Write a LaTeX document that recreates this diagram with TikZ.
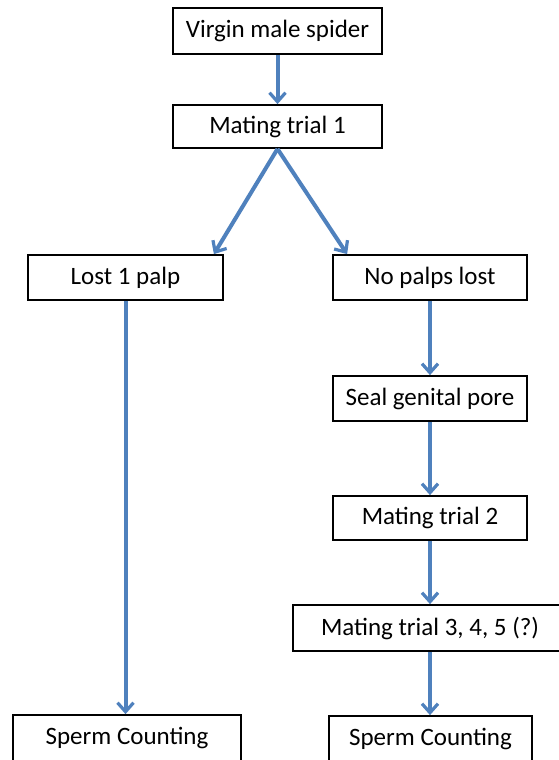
\documentclass[tikz,border=0pt]{standalone}
\usepackage{fontspec}
\setmainfont{Carlito}
\usetikzlibrary{arrows.meta,calc}
\definecolor{arrowblue}{RGB}{79,129,189}
\begin{document}
\begin{tikzpicture}[x=1pt,y=-1pt,
  box/.style={draw=black,line width=1.8pt,fill=white,rectangle,inner sep=0pt,
    minimum height=45pt,font=\fontsize{25}{29}\selectfont},
  flow/.style={draw=arrowblue,line width=4pt,
    -{Straight Barb[length=9pt,width=16pt,line width=3.2pt]}}]
\clip (0,0) rectangle (559,760);
\fill[white] (0,0) rectangle (559,760);
\node[box,minimum width=209pt,minimum height=46pt] (v) at (277.5,31) {Virgin male spider};
\node[box,minimum width=209pt,minimum height=43pt] (m1) at (277.5,126.5) {Mating trial 1};
\node[box,minimum width=195pt] (lost) at (125.5,277.5) {Lost 1 palp};
\node[box,minimum width=194pt] (nop) at (430,277.5) {No palps lost};
\node[box,minimum width=194pt] (seal) at (430,398.5) {Seal genital pore};
\node[box,minimum width=194pt,minimum height=44pt] (m2) at (430,518) {Mating trial 2};
\node[box,minimum width=274pt,minimum height=46pt] (m3) at (430,628) {Mating trial 3, 4, 5 (?)};
\node[box,minimum width=228pt,minimum height=46pt] (sc1) at (127,738) {Sperm Counting};
\node[box,minimum width=203pt,minimum height=46pt] (sc2) at (430.5,739) {Sperm Counting};
\draw[flow] (v.south) -- (m1.north);
\draw[flow] (m1.south) -- ([xshift=-10pt]lost.north east);
\draw[flow] (m1.south) -- ([xshift=15pt]nop.north west);
\draw[flow] (lost.south) -- (lost.south |- sc1.north);
\draw[flow] (nop.south) -- (seal.north);
\draw[flow] (seal.south) -- (m2.north);
\draw[flow] (m2.south) -- (m3.north);
\draw[flow] (m3.south) -- (m3.south |- sc2.north);
\end{tikzpicture}
\end{document}
